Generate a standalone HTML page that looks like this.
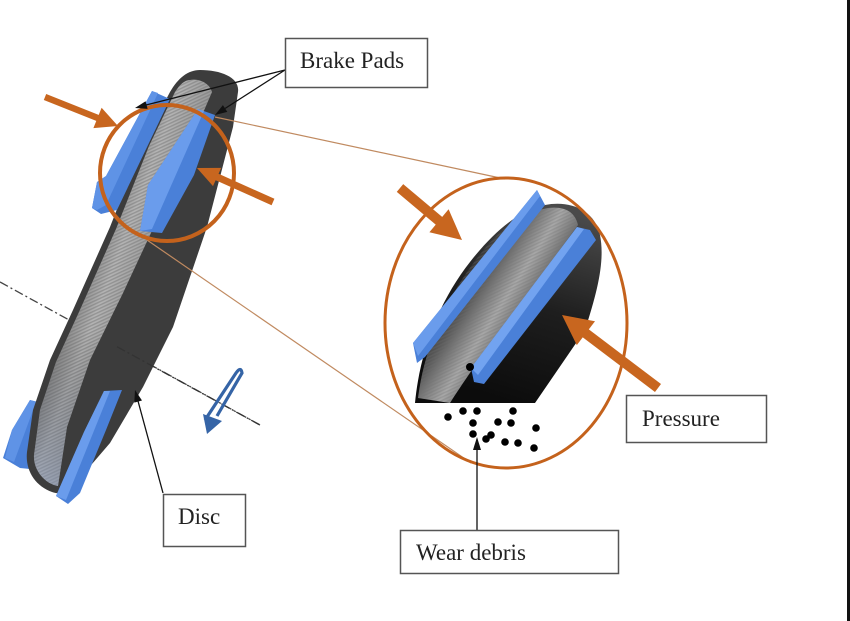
<!DOCTYPE html>
<html><head><meta charset="utf-8"><style>
html,body{margin:0;padding:0;background:#fff;}
body{width:850px;height:621px;overflow:hidden;position:relative;}
svg{position:absolute;left:0;top:0;}
text{font-family:"Liberation Serif",serif;font-size:23px;fill:#222;}
</style></head><body>
<svg width="850" height="621" viewBox="0 0 850 621" xmlns="http://www.w3.org/2000/svg">
<defs>
  <pattern id="rib" patternUnits="userSpaceOnUse" width="6" height="3" patternTransform="rotate(-25)">
    <rect width="6" height="1.4" fill="#6e6e6e" opacity="0.45"/>
  </pattern>
  <linearGradient id="rimL" gradientUnits="userSpaceOnUse" x1="60" y1="300" x2="140" y2="330">
    <stop offset="0" stop-color="#6a6a6a"/>
    <stop offset="0.45" stop-color="#b4b4b4"/>
    <stop offset="1" stop-color="#8a8a8a"/>
  </linearGradient>
  <linearGradient id="rimLow" gradientUnits="userSpaceOnUse" x1="0" y1="330" x2="0" y2="490">
    <stop offset="0" stop-color="#000" stop-opacity="0"/>
    <stop offset="1" stop-color="#8ea2c8" stop-opacity="0.45"/>
  </linearGradient>
  <linearGradient id="bigBody" gradientUnits="userSpaceOnUse" x1="560" y1="210" x2="500" y2="400">
    <stop offset="0" stop-color="#4a4a4a"/>
    <stop offset="0.5" stop-color="#1e1e1e"/>
    <stop offset="1" stop-color="#0c0c0c"/>
  </linearGradient>
  <linearGradient id="bigRim" gradientUnits="userSpaceOnUse" x1="445" y1="285" x2="515" y2="330">
    <stop offset="0" stop-color="#1a1a1a"/>
    <stop offset="0.35" stop-color="#5a5a5a"/>
    <stop offset="0.7" stop-color="#a8a8a8"/>
    <stop offset="1" stop-color="#666"/>
  </linearGradient>
</defs>

<!-- axis line (behind disc) -->
<line x1="0" y1="282" x2="260" y2="425" stroke="#444" stroke-width="1.3" stroke-dasharray="9,3,2,3"/>

<!-- lower left pad (behind disc) -->
<polygon points="30,400 50,405 40,470 20,468 3,458 12,430" fill="#4a80d8"/>
<polygon points="30,400 36,402 14,462 5,458 12,430" fill="#5f93e6"/>

<!-- left disc silhouette -->
<path d="M200,70 C222,70 240,78 238,92 L233,127 L207,227 L173,327 L143,387 L110,443 L80,478 C70,490 62,496 52,492 C35,486 25,470 27,452 L33,410 L50,360 L73,310 L110,227 L143,143 L170,92 C178,78 188,70 200,70 Z" fill="#3c3c3c"/>
<!-- rim band -->
<path d="M190,80 C200,78 210,84 212,92 L157,220 L123,293 L90,360 L67,427 L58,486 C45,484 33,470 34,455 L40,410 L56,362 L79,312 L116,229 L149,146 L175,92 C180,84 185,80 190,80 Z" fill="url(#rimL)"/>
<path d="M190,80 C200,78 210,84 212,92 L157,220 L123,293 L90,360 L67,427 L58,486 C45,484 33,470 34,455 L40,410 L56,362 L79,312 L116,229 L149,146 L175,92 C180,84 185,80 190,80 Z" fill="url(#rib)"/>
<path d="M190,80 C200,78 210,84 212,92 L157,220 L123,293 L90,360 L67,427 L58,486 C45,484 33,470 34,455 L40,410 L56,362 L79,312 L116,229 L149,146 L175,92 C180,84 185,80 190,80 Z" fill="url(#rimLow)"/>

<!-- axis segment on top of face -->
<line x1="117" y1="346.7" x2="260" y2="425" stroke="#333" stroke-width="1.3" stroke-dasharray="9,3,2,3"/>

<!-- upper left pad -->
<polygon points="152,91 170,99 117,210 101,214 92,208 97,182 106,176" fill="#4a80d8"/>
<polygon points="152,91 158,93 106,205 97,210 92,208 97,182 106,176" fill="#5f93e6"/>
<!-- upper right pad -->
<polygon points="198,109 215,115 194,175 162,233 140,231 148,185" fill="#4a80d8"/>
<polygon points="198,109 204,111 152,229 140,231 148,185" fill="#6a9cec"/>
<!-- lower right pad -->
<polygon points="104,391 122,390 106,430 80,493 68,504 56,496 84,432" fill="#4a80d8"/>
<polygon points="104,391 110,391 66,500 56,496 84,432" fill="#6a9cec"/>

<!-- rotation arrow -->
<path d="M205,420 L236,373 Q241,366 242,373 L217,416" fill="none" stroke="#3564a6" stroke-width="3.2"/>
<polygon points="207,434 203,414 222,421" fill="#3564a6"/>

<!-- thin connector lines -->
<line x1="215" y1="117" x2="505" y2="179" stroke="#c08a60" stroke-width="1.2"/>
<line x1="147" y1="240" x2="471" y2="463" stroke="#c08a60" stroke-width="1.2"/>

<!-- small circle -->
<ellipse cx="167" cy="173" rx="67" ry="68" fill="none" stroke="#c4621c" stroke-width="4"/>

<!-- big ellipse content -->
<path d="M415,403 C420,350 440,300 470,262 C495,230 520,210 545,205 C570,200 595,210 600,235 C605,260 598,290 585,330 L535,403 Z" fill="url(#bigBody)"/>
<path d="M418,398 C424,350 444,303 472,265 C495,232 520,213 548,208 C565,206 575,212 578,225 L472,370 C465,380 455,395 450,403 Z" fill="url(#bigRim)"/>
<path d="M418,398 C424,350 444,303 472,265 C495,232 520,213 548,208 C565,206 575,212 578,225 L472,370 C465,380 455,395 450,403 Z" fill="url(#rib)" opacity="0.6"/>
<!-- big left pad -->
<polygon points="537,190 545,205 425,357 417,363 413,343" fill="#4a80d8"/>
<polygon points="537,190 540,196 418,356 413,343" fill="#6a9cec"/>
<!-- big right pad -->
<polygon points="577,227 590,230 596,240 484,384 474,382 471,368" fill="#4a80d8"/>
<polygon points="577,227 584,229 478,375 471,368" fill="#72a3f0"/>
<circle cx="470" cy="367" r="4" fill="#000"/>

<!-- debris -->
<g fill="#000">
<circle cx="448" cy="417" r="3.8"/><circle cx="463" cy="411" r="3.8"/><circle cx="477" cy="411" r="3.8"/>
<circle cx="513" cy="411" r="3.8"/><circle cx="473" cy="423" r="3.8"/><circle cx="498" cy="422" r="3.8"/>
<circle cx="511" cy="423" r="3.8"/><circle cx="536" cy="428" r="3.8"/><circle cx="473" cy="434" r="3.8"/>
<circle cx="486" cy="439" r="3.8"/><circle cx="491" cy="435" r="3.8"/><circle cx="505" cy="442" r="3.8"/>
<circle cx="518" cy="443" r="3.8"/><circle cx="534" cy="448" r="3.8"/>
</g>

<!-- big ellipse -->
<ellipse cx="506" cy="323" rx="121" ry="145" fill="none" stroke="#c4621c" stroke-width="3"/>

<!-- orange arrows -->
<g fill="#c8661f" stroke="#c8661f">
<line x1="45" y1="97" x2="99" y2="118.5" stroke-width="6.5"/>
<polygon points="118,126 93.4,128.1 101.6,107.7" stroke="none"/>
<line x1="273" y1="202" x2="216" y2="176.5" stroke-width="7"/>
<polygon points="197,168 221.2,167.9 213,186.1" stroke="none"/>
<line x1="400" y1="188" x2="441" y2="222.5" stroke-width="10"/>
<polygon points="462,240 429.4,232.2 448.6,209.2" stroke="none"/>
<line x1="658" y1="388" x2="584" y2="332" stroke-width="10"/>
<polygon points="562,315 595,321.3 576.8,345.1" stroke="none"/>
</g>

<!-- black leader arrows -->
<g stroke="#111" stroke-width="1.3">
<line x1="285" y1="70" x2="146" y2="105"/>
<line x1="285" y1="70" x2="225" y2="108.5"/>
<line x1="163" y1="493" x2="138" y2="401"/>
<line x1="477" y1="530" x2="477" y2="448"/>
</g>
<g fill="#111">
<polygon points="135,108 147.6,108.9 145.6,101.2"/>
<polygon points="215,115 227.3,111.9 222.9,105.1"/>
<polygon points="135,390 142,400.5 134.3,402.6"/>
<polygon points="477,437 473,450 481,450"/>
</g>

<!-- label boxes -->
<rect x="285.5" y="38.5" width="142" height="49" fill="#fff" stroke="#555" stroke-width="1.5"/>
<text x="300" y="68">Brake Pads</text>
<rect x="163.5" y="494.5" width="82" height="52" fill="#fff" stroke="#555" stroke-width="1.5"/>
<text x="178" y="524">Disc</text>
<rect x="626.5" y="395.5" width="140" height="47" fill="#fff" stroke="#555" stroke-width="1.5"/>
<text x="642" y="426">Pressure</text>
<rect x="400.5" y="530.5" width="218" height="43" fill="#fff" stroke="#555" stroke-width="1.5"/>
<text x="416" y="560">Wear debris</text>

<!-- right border -->
<rect x="847" y="0" width="3" height="621" fill="#111"/>
</svg>
</body></html>
